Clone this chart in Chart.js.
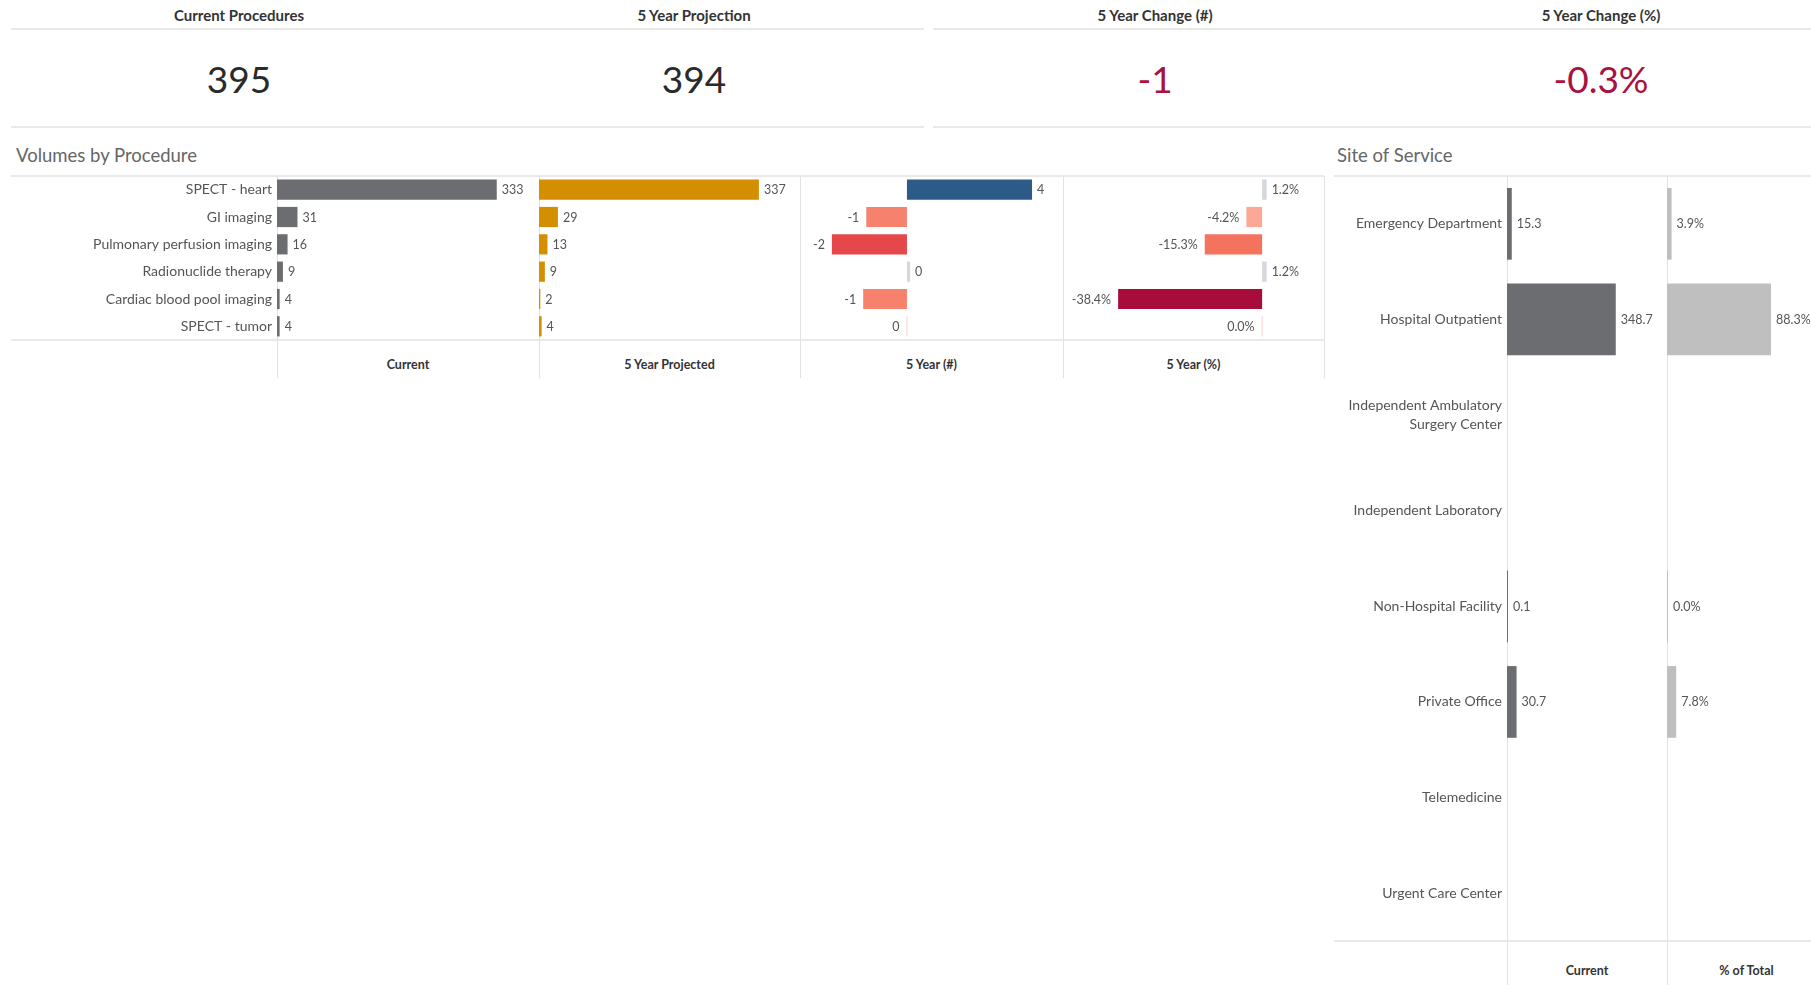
<!DOCTYPE html>
<html><head><meta charset="utf-8">
<script src="https://cdn.jsdelivr.net/npm/chart.js@4.4.1/dist/chart.umd.min.js"></script>
<style>
html,body{margin:0;padding:0;width:1811px;height:985px;overflow:hidden;background:#fff;font-family:Lato,"Open Sans",sans-serif;}
.hl{position:absolute;height:2px;background:#e9e9e9;}
.vl{position:absolute;width:1px;background:#e2e2e2;}
.ctr{position:absolute;transform:translate(-50%,-50%);white-space:nowrap;}
.kt{font-weight:700;font-size:15px;color:#333;}
.kv{font-size:37px;color:#2a2a2a;}
.neg{color:#a8123e;}
.st{position:absolute;transform:translateY(-50%);font-size:18.5px;color:#666;white-space:nowrap;}
.ch{font-weight:700;font-size:12.5px;color:#333;}
.box{position:absolute;}
</style>
</head><body>
<div id="root"></div>
<script>
// ---------- data ----------
const kpiTitles = ['Current Procedures','5 Year Projection','5 Year Change (#)','5 Year Change (%)'];
const kpiValues = ['395','394','-1','-0.3%'];

const procedures = ['SPECT - heart','GI imaging','Pulmonary perfusion imaging','Radionuclide therapy','Cardiac blood pool imaging','SPECT - tumor'];
const currentVol = [333,31,16,9,4,4];
const projectedVol = [337,29,13,9,2,4];
const changeNum = [4.0,-1.3,-2.4,0.1,-1.4,0.0];
const changePct = [1.2,-4.2,-15.3,1.2,-38.4,0.0];
const procColumns = ['Current','5 Year Projected','5 Year (#)','5 Year (%)'];

const sites = ['Emergency Department','Hospital Outpatient',['Independent Ambulatory','Surgery Center'],'Independent Laboratory','Non-Hospital Facility','Private Office','Telemedicine','Urgent Care Center'];
const siteCurrent = [15.3,348.7,null,null,0.1,30.7,null,null];
const sitePct = [3.9,88.3,null,null,0.0,7.8,null,null];
const siteColumns = ['Current','% of Total'];

// ---------- styles ----------
const GRAY = '#6c6d70';
const GOLD = '#d38f00';
const changeNumColors = ['#2d5b87','#f6826d','#e5474b','#d3d7de','#f6826d','#f3d3cf'];
const changePctColors = ['#d3d7de','#fca895','#f4735f','#d3d7de','#a80c3a','#f3d3cf'];
const LABEL_FONT = {family:'Lato, "Open Sans", sans-serif', size:14};
const VALUE_FONT = '12.5px Lato, "Open Sans", sans-serif';

const root = document.getElementById('root');
function el(cls, style, text){
  const d = document.createElement('div');
  d.className = cls; Object.assign(d.style, style);
  if(text!==undefined) d.textContent = text;
  root.appendChild(d); return d;
}

// KPI strip
const kpiX = [239,694,1155,1601];
kpiTitles.forEach((t,i)=>el('ctr kt',{left:kpiX[i]+'px',top:'15px'},t));
kpiValues.forEach((v,i)=>el('ctr kv'+(v.startsWith('-')?' neg':''),{left:kpiX[i]+'px',top:'78px'},v));
el('hl',{left:'11px',width:'913px',top:'28px'});
el('hl',{left:'933px',width:'878px',top:'28px'});
el('hl',{left:'11px',width:'913px',top:'126px'});
el('hl',{left:'933px',width:'878px',top:'126px'});

// section titles
el('st',{left:'16px',top:'155px'},'Volumes by Procedure');
el('st',{left:'1337px',top:'155px'},'Site of Service');

// procedure table frame
el('hl',{left:'11px',width:'1313px',top:'175px'});
el('hl',{left:'11px',width:'1313px',top:'339px'});
[277,539,800,1063,1324].forEach(x=>el('vl',{left:x+'px',top:'176px',height:'202px'}));
const procColX = [277,539,800,1063,1324];
procColumns.forEach((c,i)=>el('ctr ch',{left:((procColX[i]+procColX[i+1])/2)+'px',top:'364px'},c));

// site frame
el('hl',{left:'1334px',width:'477px',top:'175px'});
el('hl',{left:'1334px',width:'477px',top:'940px'});
[1507,1667].forEach(x=>el('vl',{left:x+'px',top:'176px',height:'809px'}));
const siteColX = [1507,1667,1826];
siteColumns.forEach((c,i)=>el('ctr ch',{left:((siteColX[i]+siteColX[i+1])/2)+'px',top:'970px'},c));

// value label plugin (formatter stored on the raw dataset object)
const valueLabels = {
  id:'valueLabels',
  afterDatasetsDraw(chart){
    const ctx = chart.ctx;
    ctx.save();
    ctx.font = VALUE_FONT;
    ctx.fillStyle = '#555';
    ctx.textBaseline = 'middle';
    chart.data.datasets.forEach((ds,di)=>{
      const fmt = ds.fmt, zeroRight = ds.zeroRight;
      chart.getDatasetMeta(di).data.forEach((bar,i)=>{
        const v = ds.data[i];
        if(v===null || v===undefined) return;
        const txt = fmt(v);
        const right = zeroRight ? v >= 0 : v > 0;
        if(right){
          ctx.textAlign='left';
          ctx.fillText(txt, Math.max(bar.x,bar.base)+5, bar.y+0.5);
        } else {
          ctx.textAlign='right';
          ctx.fillText(txt, Math.min(bar.x,bar.base)-7, bar.y+0.5);
        }
      });
    });
    ctx.restore();
  }
};

function makeBar(box, labels, data, colors, min, max, opt){
  const wrap = el('box',{left:box[0]+'px',top:box[1]+'px',width:box[2]+'px',height:box[3]+'px'});
  const cv = document.createElement('canvas'); wrap.appendChild(cv);
  const showY = !!opt.yWidth;
  return new Chart(cv,{
    type:'bar',
    data:{labels, datasets:[{data, backgroundColor:colors, borderWidth:0,
      barPercentage:opt.barPct, categoryPercentage:1, minBarLength:opt.minBar||0,
      fmt:opt.format, zeroRight:!!opt.zeroRight}]},
    options:{
      indexAxis:'y', responsive:true, maintainAspectRatio:false, animation:false,
      devicePixelRatio:1,
      layout:{padding:0},
      plugins:{legend:{display:false}, tooltip:{enabled:false}},
      scales:{
        x:{type:'linear', min, max, display:false},
        y:{type:'category', display:showY,
           grid:{display:false, drawTicks:false}, border:{display:false},
           ticks:{autoSkip:false, padding:5, color:'#555', font:{...LABEL_FONT, lineHeight:1.35}},
           afterFit:(s)=>{ if(opt.yWidth){ s.width = opt.yWidth; s.paddingTop = 0; s.paddingBottom = 0; } }}
      }
    },
    plugins:[valueLabels]
  });
}

const fmtInt = v=>String(Math.round(v));
const fmtFixed0 = v=>{const s=v.toFixed(0); return s==='-0'?'0':s;};
const fmtPct = v=>v.toFixed(1)+'%';
const fmt1 = v=>v.toFixed(1);

makeBar([11,176,528,164], procedures, currentVol, GRAY, 0, 397, {yWidth:266, barPct:0.74, format:fmtInt});
makeBar([539,176,261,164], procedures, projectedVol, GOLD, 0, 400, {barPct:0.74, format:fmtInt});
makeBar([800,176,263,164], procedures, changeNum, changeNumColors, -3.42, 4.99, {barPct:0.74, format:fmtFixed0, minBar:1});
makeBar([1063,176,261,164], procedures, changePct, changePctColors, -53.1, 16.5, {barPct:0.74, format:fmtPct, minBar:1});

makeBar([1334,176,333,765], sites, siteCurrent, GRAY, 0, 513, {yWidth:173, barPct:0.75, format:fmt1, minBar:1, zeroRight:true});
makeBar([1667,176,159,765], sites, sitePct, '#bfbfbf', 0, 135, {barPct:0.75, format:fmtPct, minBar:1, zeroRight:true});
</script>
</body></html>
